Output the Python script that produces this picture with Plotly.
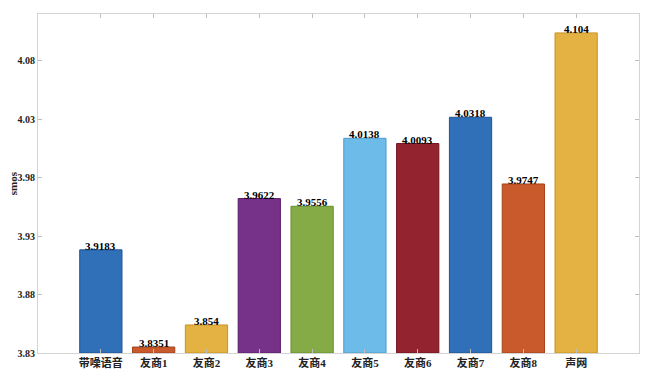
import plotly.graph_objects as go

categories = ["带噪语音", "友商1", "友商2", "友商3", "友商4", "友商5", "友商6", "友商7", "友商8", "声网"]
values = [3.9183, 3.8351, 3.854, 3.9622, 3.9556, 4.0138, 4.0093, 4.0318, 3.9747, 4.104]
labels = ["3.9183", "3.8351", "3.854", "3.9622", "3.9556", "4.0138", "4.0093", "4.0318", "3.9747", "4.104"]
colors = ["#3070B8", "#C85A2C", "#E4B143", "#763289", "#84AB45", "#6DBBE9", "#93232F", "#3070B8", "#C85A2C", "#E4B143"]
edges = ["#1E5296", "#A8401A", "#C89420", "#5A1E6C", "#66902A", "#4A9CCC", "#701220", "#1E5296", "#A8401A", "#C89420"]
yticks = [3.83, 3.88, 3.93, 3.98, 4.03, 4.08]

xs = list(range(1, len(categories) + 1))

fig = go.Figure(go.Bar(
    x=xs, y=[v - 3.83 for v in values], base=3.83,
    width=0.8,
    marker=dict(color=colors, line=dict(color=edges, width=1)),
))

for x, v, t in zip(xs, values, labels):
    fig.add_annotation(
        x=x, y=v, text=t, showarrow=False, yanchor="bottom", yshift=-4,
        font=dict(family="Liberation Serif", size=11, color="black", weight="bold"),
    )

fig.add_annotation(
    xref="paper", yref="paper", x=-0.042, y=0.5, text="smos", textangle=-90,
    showarrow=False, xanchor="center", yanchor="middle",
    font=dict(family="Liberation Serif", size=11, color="#222", weight="bold"),
)

fig.update_layout(
    width=642, height=370,
    margin=dict(l=30, r=11, t=6, b=25),
    plot_bgcolor="white", paper_bgcolor="white",
    showlegend=False,
    font=dict(family="Liberation Serif, Noto Sans CJK SC", size=11, color="black"),
)
fig.update_xaxes(
    range=[-0.19, 11.19], automargin=False,
    tickmode="array", tickvals=xs, ticktext=categories,
    tickfont=dict(family="Liberation Serif, Noto Sans CJK SC", size=11, color="#222", weight="bold"),
    showline=True, linecolor="#d4d4d4", linewidth=1, mirror="ticks",
    ticks="inside", ticklen=4, tickcolor="#bdbdbd",
    showgrid=False, zeroline=False,
)
fig.update_yaxes(
    range=[3.83, 4.1202], automargin=False,
    tickmode="array", tickvals=yticks, ticktext=[f"{t:.2f}" for t in yticks],
    tickfont=dict(family="Liberation Serif", size=10, color="#222", weight="bold"),
    showline=True, linecolor="#d4d4d4", linewidth=1, mirror="ticks",
    ticks="inside", ticklen=4, tickcolor="#bdbdbd",
    showgrid=False, zeroline=False,
)

fig.write_html("out.html")
